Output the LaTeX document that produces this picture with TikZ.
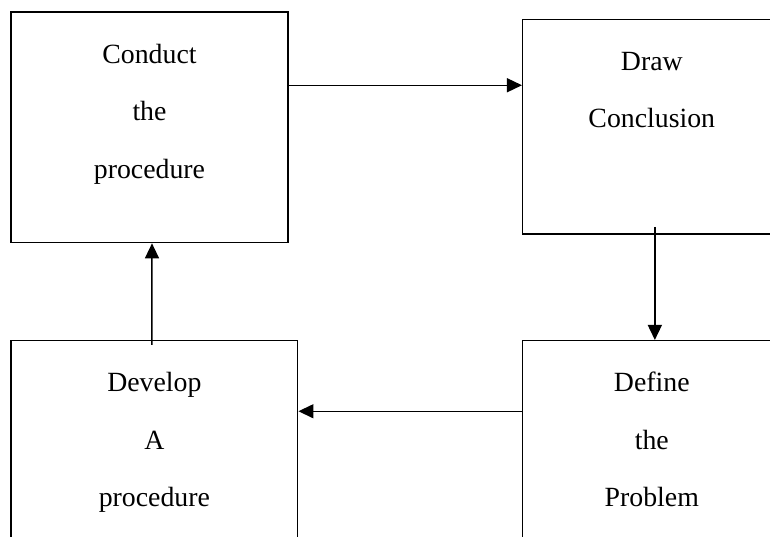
\documentclass[tikz,border=0pt]{standalone}
\usepackage{fontspec}
\setmainfont{Liberation Serif}
\usetikzlibrary{arrows.meta}
\begin{document}
\begin{tikzpicture}[x=1pt,y=-1pt,
  stepbox/.style={draw=black,line width=1.5pt,rectangle,inner sep=0pt},
  lbl/.style={anchor=base,inner sep=0pt,font=\fontsize{27.8}{33}\selectfont},
  arr/.style={draw=black,line width=1.5pt,-{Triangle[length=15pt,width=14pt]}}]
\useasboundingbox (0,0) rectangle (770,536);
\clip (0,0) rectangle (770,536);
\fill[white] (0,0) rectangle (770,536);

% boxes
\node[stepbox,minimum width=277pt,minimum height=230.6pt] (conduct) at (149.5,127.3) {};
\node[stepbox,minimum width=258.3pt,minimum height=214.7pt] (draw) at (651.85,126.65) {};
\node[stepbox,minimum width=286.7pt,minimum height=204.3pt] (develop) at (154.35,442.85) {};
\node[stepbox,minimum width=258.3pt,minimum height=204.3pt] (define) at (651.85,442.85) {};

% labels
\node[lbl] (c1) at (149.5,63) {Conduct};
\node[lbl] (c2) at (149.5,120.5) {the};
\node[lbl] (c3) at (149.5,178) {procedure};

\node[lbl] (d1) at (651.8,70) {Draw};
\node[lbl] (d2) at (651.8,127.5) {Conclusion};

\node[lbl] (v1) at (154.4,391.7) {Develop};
\node[lbl] (v2) at (154.4,449) {A};
\node[lbl] (v3) at (154.4,506.3) {procedure};

\node[lbl] (f1) at (651.8,391.7) {Define};
\node[lbl] (f2) at (651.8,449) {the};
\node[lbl] (f3) at (651.8,506.3) {Problem};

% connectors
\draw[arr] ([yshift=-74pt]conduct.north east) -- ([yshift=-66.7pt]draw.north west);
\draw[arr] ([xshift=3pt,yshift=8pt]draw.south) -- ([xshift=3pt]define.north);
\draw[arr] ([yshift=-71.3pt]define.north west) -- ([yshift=-71.3pt]develop.north east);
\draw[arr] ([xshift=-2.4pt,yshift=-5pt]develop.north) -- ([xshift=2.5pt]conduct.south);
\end{tikzpicture}
\end{document}
